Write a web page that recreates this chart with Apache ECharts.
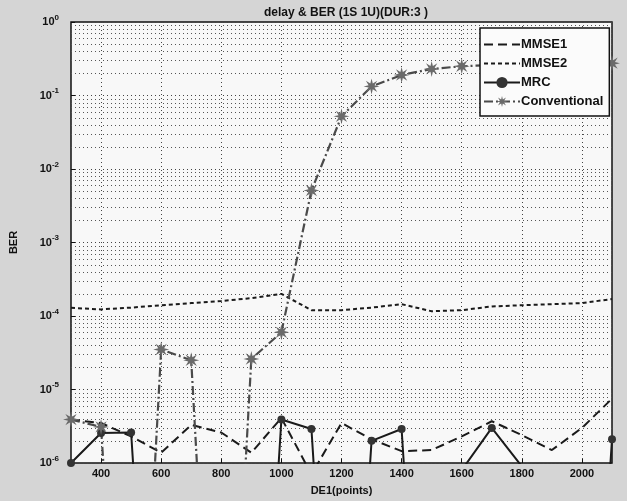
<!DOCTYPE html>
<html>
<head>
<meta charset="utf-8">
<script src="https://cdn.jsdelivr.net/npm/echarts@6/dist/echarts.min.js"></script>
<style>html,body{margin:0;padding:0;background:#d5d5d5;}#c{width:627px;height:501px;}</style>
</head>
<body>
<div id="c"></div>
<script>
// ---- data (values below 1e-6 fall off the bottom of the log axis, as in the original) ----
const xValues = [300,400,500,600,700,800,900,1000,1100,1200,1300,1400,1500,1600,1700,1800,1900,2000,2100];
const mmse1 = [3.9e-6,3.5e-6,2.3e-6,1.38e-6,3.3e-6,2.6e-6,1.38e-6,4.1e-6,7e-7,3.5e-6,2.1e-6,1.45e-6,1.5e-6,2.3e-6,3.7e-6,2.4e-6,1.5e-6,3.0e-6,7.5e-6];
const mmse2 = [1.29e-4,1.23e-4,1.3e-4,1.4e-4,1.5e-4,1.6e-4,1.75e-4,2.0e-4,1.2e-4,1.2e-4,1.3e-4,1.45e-4,1.16e-4,1.2e-4,1.35e-4,1.4e-4,1.45e-4,1.5e-4,1.7e-4];
const mrc = [1e-6,2.56e-6,2.6e-6,1e-12,1e-12,1e-12,1e-12,3.9e-6,2.9e-6,1e-12,2e-6,2.9e-6,1e-12,8e-7,3e-6,9e-7,1e-12,1e-12,2.1e-6];
const conventional = [3.9e-6,3.1e-6,1e-12,3.5e-5,2.5e-5,1e-12,2.6e-5,6e-5,5.1e-3,0.052,0.133,0.19,0.23,0.25,0.26,0.26,0.27,0.27,0.275];
const xTickLabels = [400,600,800,1000,1200,1400,1600,1800,2000];
const xMin = 300, xMax = 2100;
const yExpMin = -6, yExpMax = 0;
const seriesNames = ['MMSE1','MMSE2','MRC','Conventional'];

// ---- helpers ----
function pairs(ys){ return xValues.map((x,i)=>[x, ys[i]]); }
function starPath(n, R, r){
  let d = '';
  for (let i = 0; i < 2*n; i++) {
    const a = Math.PI * i / n - Math.PI/2;
    const rad = (i % 2 === 0) ? R : r;
    d += (i === 0 ? 'M' : 'L') + (R + rad*Math.cos(a)).toFixed(2) + ' ' + (R + rad*Math.sin(a)).toFixed(2) + ' ';
  }
  return 'path://' + d + 'Z';
}
// minor log grid values 2..9 x 10^e
const minorY = [];
for (let e = yExpMin; e < yExpMax; e++) for (let m = 2; m <= 9; m++) minorY.push(m * Math.pow(10, e));

const font = 'Liberation Sans, Arial, sans-serif';
const gridDot = {color:'#444', type:[1,3], width:1};
const starSym = starPath(8,10,4);

const chart = echarts.init(document.getElementById('c'), null, {renderer:'canvas'});
chart.setOption({
  backgroundColor:'#d5d5d5',
  animation:false,
  title:{text:'delay & BER (1S 1U)(DUR:3 )', left:341, top:2, textAlign:'center',
    textStyle:{fontFamily:font, fontSize:12, fontWeight:'bold', color:'#111'}},
  grid:{left:70, right:15, top:22, bottom:34, show:true, backgroundColor:'#f8f8f8', borderColor:'#111', borderWidth:1.5},
  legend:{
    orient:'vertical', left:480, top:28,
    data:[
      {name:'MMSE1', itemStyle:{opacity:0}},
      {name:'MMSE2', itemStyle:{opacity:0}},
      {name:'MRC'},
      {name:'Conventional'}
    ],
    backgroundColor:'#fbfbfb', borderColor:'#111', borderWidth:1.5,
    padding:[10,6,8,3], itemGap:6, itemWidth:36, itemHeight:14,
    textStyle:{fontFamily:font, fontSize:13, fontWeight:'bold', color:'#111', padding:[0,0,0,-4]}
  },
  xAxis:{
    type:'value', min:xMin, max:xMax,
    name:'DE1(points)', nameLocation:'middle', nameGap:22,
    nameTextStyle:{fontFamily:font, fontSize:11, fontWeight:'bold', color:'#111'},
    axisLine:{show:false},
    axisTick:{show:true, inside:true, length:4, lineStyle:{color:'#111'}, customValues:xTickLabels},
    axisLabel:{fontFamily:font, fontSize:11, fontWeight:'bold', color:'#111', margin:5, customValues:xTickLabels,
      formatter:function(v){ return String(v); }},
    splitLine:{show:true, lineStyle:gridDot}
  },
  yAxis:{
    type:'log', logBase:10, min:Math.pow(10,yExpMin), max:Math.pow(10,yExpMax),
    name:'BER', nameLocation:'middle', nameGap:52,
    nameTextStyle:{fontFamily:font, fontSize:11, fontWeight:'bold', color:'#111'},
    axisLine:{show:false},
    axisTick:{show:true, inside:true, length:4, lineStyle:{color:'#111'}},
    axisLabel:{margin:12, formatter:function(v){ const e = Math.round(Math.log10(v)); return '{b|10}{s|' + e + '}'; },
      rich:{b:{fontFamily:font, fontSize:11, fontWeight:'bold', color:'#111'},
            s:{fontFamily:font, fontSize:8, fontWeight:'bold', color:'#111', padding:[0,0,9,0]}}},
    splitLine:{show:true, lineStyle:gridDot}
  },
  series:[
    {name:'MMSE1', type:'line', data:pairs(mmse1), showSymbol:false, symbol:'none', clip:true,
      lineStyle:{color:'#1a1a1a', width:2, type:[9,5]}, itemStyle:{color:'#1a1a1a'}},
    {name:'MMSE2', type:'line', data:pairs(mmse2), showSymbol:false, symbol:'none', clip:true,
      lineStyle:{color:'#1a1a1a', width:2, type:[4,3]}, itemStyle:{color:'#1a1a1a'}},
    {name:'MRC', type:'line', data:pairs(mrc), symbol:'circle', symbolSize:8, showSymbol:true, clip:true,
      lineStyle:{color:'#1a1a1a', width:2}, itemStyle:{color:'#333'}},
    {name:'Conventional', type:'line', data:pairs(conventional), symbol:starSym, symbolSize:16, showSymbol:true, clip:true,
      lineStyle:{color:'#4a4a4a', width:2.2, type:[9,3,2,3]}, itemStyle:{color:'#6a6a6a'}}
  ]
});

// minor log grid lines, positioned through the chart's own axes
const px0 = chart.convertToPixel({xAxisIndex:0}, xMin);
const px1 = chart.convertToPixel({xAxisIndex:0}, xMax);
chart.setOption({
  graphic: minorY.map(function(v){
    const py = Math.round(chart.convertToPixel({yAxisIndex:0}, v)) + 0.5;
    return {type:'line', silent:true, z:1,
      shape:{x1:px0, y1:py, x2:px1, y2:py},
      style:{stroke:'#555', lineWidth:1, lineDash:[1,3]}};
  })
});
</script>
</body>
</html>
